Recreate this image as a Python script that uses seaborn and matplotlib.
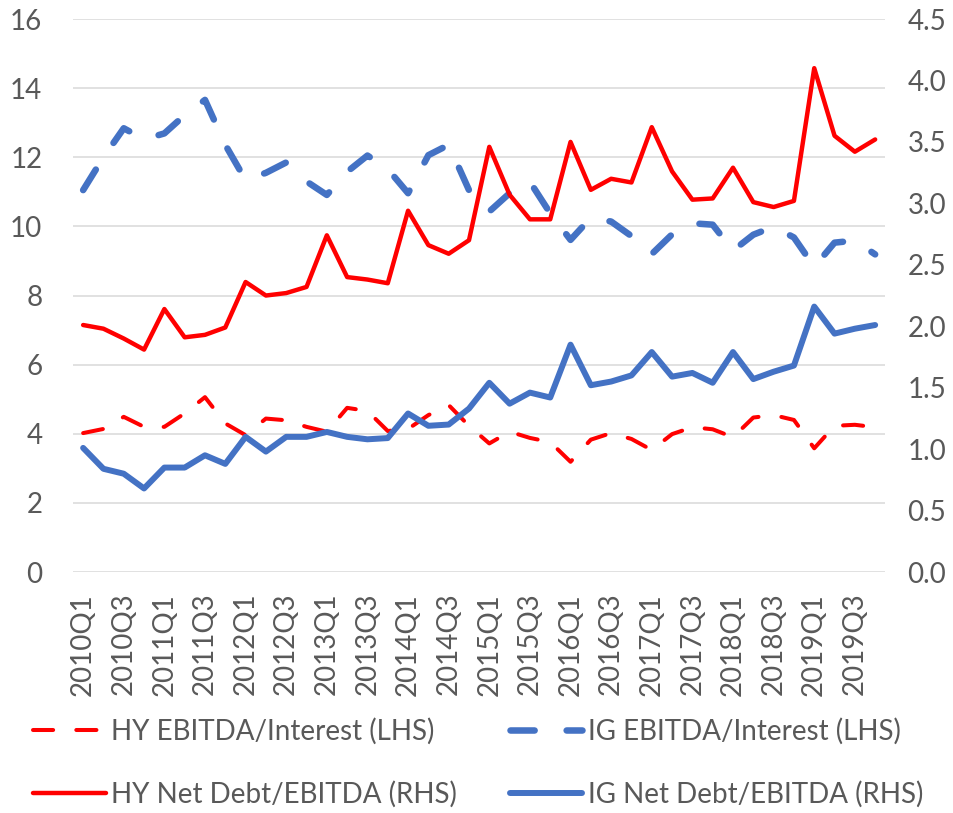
import numpy as np
import pandas as pd
import seaborn as sns
import matplotlib
matplotlib.use("Agg")
import matplotlib.pyplot as plt

quarters = ["2010Q1", "2010Q2", "2010Q3", "2010Q4", "2011Q1", "2011Q2", "2011Q3", "2011Q4",
            "2012Q1", "2012Q2", "2012Q3", "2012Q4", "2013Q1", "2013Q2", "2013Q3", "2013Q4",
            "2014Q1", "2014Q2", "2014Q3", "2014Q4", "2015Q1", "2015Q2", "2015Q3", "2015Q4",
            "2016Q1", "2016Q2", "2016Q3", "2016Q4", "2017Q1", "2017Q2", "2017Q3", "2017Q4",
            "2018Q1", "2018Q2", "2018Q3", "2018Q4", "2019Q1", "2019Q2", "2019Q3", "2019Q4"]

# LHS: EBITDA / interest
hy_cov = [4.02, 4.14, 4.49, 4.20, 4.20, 4.59, 5.06, 4.30, 3.96, 4.44,
          4.39, 4.20, 4.06, 4.75, 4.66, 4.08, 4.14, 4.54, 4.83, 4.23,
          3.72, 4.06, 3.88, 3.76, 3.19, 3.83, 4.02, 3.85, 3.53, 3.99,
          4.19, 4.13, 3.90, 4.47, 4.54, 4.40, 3.58, 4.23, 4.26, 4.19]
ig_cov = [11.05, 12.00, 12.84, 12.52, 12.69, 13.22, 13.66, 12.36, 11.34, 11.55,
          11.85, 11.30, 10.91, 11.58, 12.05, 11.66, 10.96, 12.06, 12.36, 11.05,
          10.43, 10.96, 11.29, 10.38, 9.61, 10.25, 10.14, 9.72, 9.20, 9.77,
          10.09, 10.05, 9.30, 9.76, 9.99, 9.68, 8.83, 9.53, 9.59, 9.19]

# RHS: net debt / EBITDA
hy_lev = [2.01, 1.98, 1.90, 1.81, 2.14, 1.91, 1.93, 1.99, 2.36, 2.25,
          2.27, 2.32, 2.74, 2.40, 2.38, 2.35, 2.94, 2.66, 2.59, 2.70,
          3.46, 3.07, 2.87, 2.87, 3.50, 3.11, 3.20, 3.17, 3.62, 3.26,
          3.03, 3.04, 3.29, 3.01, 2.97, 3.02, 4.10, 3.55, 3.42, 3.52]
ig_lev = [1.01, 0.84, 0.80, 0.68, 0.85, 0.85, 0.95, 0.88, 1.10, 0.98,
          1.10, 1.10, 1.14, 1.10, 1.08, 1.09, 1.29, 1.19, 1.20, 1.33,
          1.54, 1.37, 1.46, 1.42, 1.85, 1.52, 1.55, 1.60, 1.79, 1.59,
          1.62, 1.54, 1.79, 1.57, 1.63, 1.68, 2.16, 1.94, 1.98, 2.01]

RED = "#FF0000"
BLUE = "#4472C4"
GREY = "#595959"

sns.set_style("white")
plt.rcParams['font.family'] = ['Lato', 'DejaVu Sans']

df = pd.DataFrame({"quarter": quarters, "hy_cov": hy_cov, "ig_cov": ig_cov,
                   "hy_lev": hy_lev, "ig_lev": ig_lev})
df["pos"] = np.arange(len(df))

fig = plt.figure(figsize=(9.54, 8.13), dpi=100)
ax = fig.add_axes([0.0765, 0.2964, 0.8515, 0.6802])
ax2 = ax.twinx()

sns.lineplot(data=df, x="pos", y="hy_cov", ax=ax, color=RED, lw=2.9,
             linestyle=(0, (5, 5.75)), dash_capstyle="round", legend=False)
sns.lineplot(data=df, x="pos", y="ig_cov", ax=ax, color=BLUE, lw=4.7,
             linestyle=(0, (3.7, 4.9)), dash_capstyle="round", legend=False)
sns.lineplot(data=df, x="pos", y="hy_lev", ax=ax2, color=RED, lw=3.2,
             solid_capstyle="round", solid_joinstyle="round", legend=False)
sns.lineplot(data=df, x="pos", y="ig_lev", ax=ax2, color=BLUE, lw=4.3,
             solid_capstyle="round", solid_joinstyle="round", legend=False)

ax.set_ylim(0, 16)
ax.set_yticks(np.arange(0, 17, 2))
ax2.set_ylim(0, 4.5)
ax2.set_yticks(np.arange(0, 4.51, 0.5))
ax2.set_yticklabels([f"{v:.1f}" for v in np.arange(0, 4.51, 0.5)])

ax.set_xlim(-0.5, len(df) - 0.5)
ax.set_xticks(df["pos"][::2])
ax.set_xticklabels(df["quarter"][::2], rotation=90)

ax.grid(axis="y", color="#D9D9D9", lw=1.1)
ax.grid(axis="x", visible=False)
ax2.grid(False)
ax.set_axisbelow(True)

for a in (ax, ax2):
    a.set_xlabel("")
    a.set_ylabel("")
    for s in a.spines.values():
        s.set_visible(False)
ax.tick_params(axis="y", length=0, labelsize=20, labelcolor=GREY, pad=22)
ax.tick_params(axis="x", length=0, labelsize=20, labelcolor=GREY, pad=15)
ax2.tick_params(axis="y", length=0, labelsize=20, labelcolor=GREY, pad=16)

l_hy_cov, l_ig_cov = ax.lines[0], ax.lines[1]
l_hy_lev, l_ig_lev = ax2.lines[0], ax2.lines[1]
handles = [l_hy_cov, l_hy_lev, l_ig_cov, l_ig_lev]
labels = ["HY EBITDA/Interest (LHS)", "HY Net Debt/EBITDA (RHS)",
          "IG EBITDA/Interest (LHS)", "IG Net Debt/EBITDA (RHS)"]
fig.legend(handles, labels, loc="center left", bbox_to_anchor=(0.035, 0.062),
           ncol=2, frameon=False, fontsize=20, labelcolor=GREY,
           handlelength=2.6, handletextpad=0.2, labelspacing=1.3,
           columnspacing=1.9, borderpad=0, borderaxespad=0)

fig.savefig("out.png", dpi=100)
